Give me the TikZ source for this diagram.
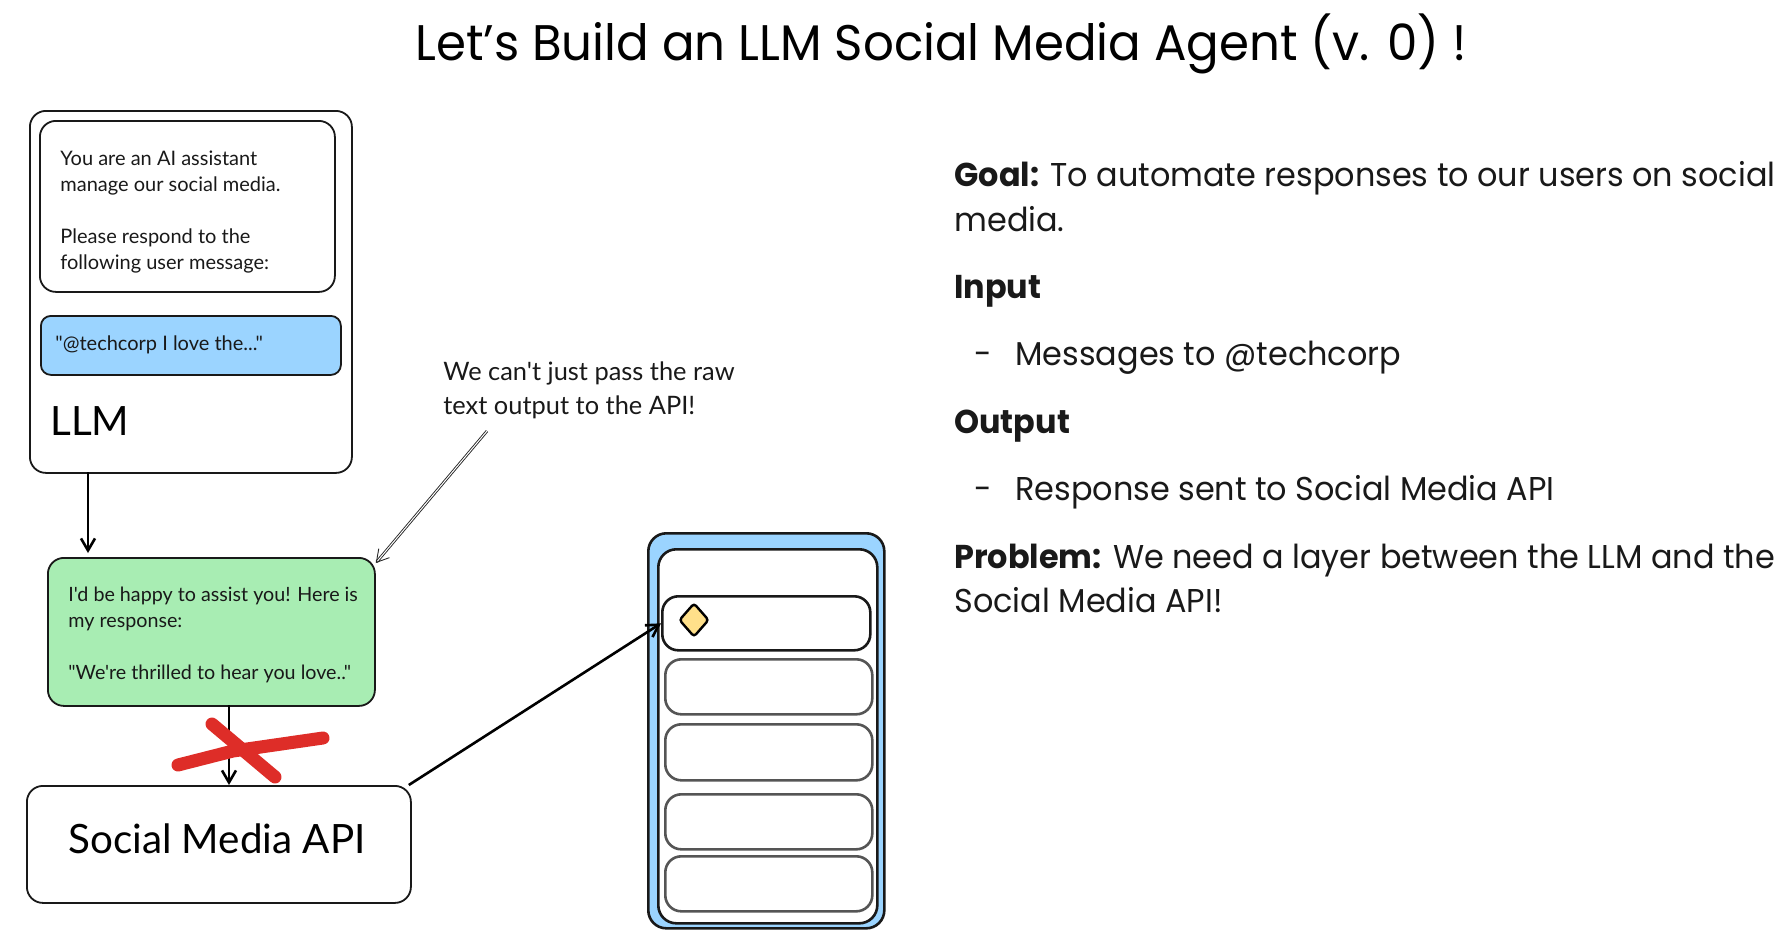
\documentclass[tikz,border=0pt]{standalone}
\usepackage{fontspec}
\setmainfont{Poppins}[FakeStretch=0.966]
\newfontfamily\sketchfont{Lato}
\usetikzlibrary{arrows.meta, positioning, shapes.geometric}
\definecolor{SketchBlue}{RGB}{155, 212, 255}
\definecolor{SketchGreen}{RGB}{168, 237, 179}
\definecolor{SketchYellow}{RGB}{255, 224, 138}
\definecolor{SketchRed}{RGB}{222, 45, 40}
\definecolor{SketchGrey}{RGB}{85, 85, 85}
\tikzset{
    box/.style={draw=black!90, rounded corners=8pt, line width=0.9pt, inner sep=0pt, anchor=north west},
    smalltext/.style={font=\sketchfont\fontsize{10}{12.9}\selectfont, align=left, anchor=north west, inner sep=0pt, text=black!90},
    bigtext/.style={font=\sketchfont\fontsize{20.2}{24}\selectfont, inner sep=0pt, text=black},
    goaltext/.style={font=\fontsize{16.5}{22.4}\selectfont, anchor=base west, inner sep=0pt, text=black!90},
    arrow/.style={-{Straight Barb[length=6pt, width=7pt]}, line width=1.3pt},
    cross/.style={SketchRed, line width=6.5pt, line cap=round, line join=round},
}
\begin{document}
\begin{tikzpicture}[x=0.5pt, y=-0.5pt]
    \useasboundingbox (0,0) rectangle (1787,932);
    % title
    \node[font=\fontsize{25}{30}\selectfont, inner sep=0pt, anchor=base] (title) at (941,60) {Let’s Build an LLM Social Media Agent (v. 0) !};
    % llm box
    \node[box, minimum width=161pt, minimum height=181pt] (llm) at (29,110) {};
    \node[box, minimum width=147.5pt, minimum height=85.5pt] (prompt) at (39,120) {};
    \node[box, fill=SketchBlue, rounded corners=5pt, minimum width=150pt, minimum height=29.5pt] (msg) at (40,315) {};
    \node[smalltext] (prompttext) at (60,151) {You are an AI assistant\\manage our social media.\\[12.9pt]Please respond to the\\following user message:};
    \node[smalltext] (msgtext) at (55,335) {"@techcorp I love the..."};
    \node[bigtext, anchor=base west] (llmtext) at (50,435) {LLM};
    % response and api
    \node[box, fill=SketchGreen, minimum width=163.5pt, minimum height=74pt] (reply) at (47,557) {};
    \node[smalltext, font=\sketchfont\fontsize{9.85}{12.9}\selectfont] (replytext) at (68,587) {I'd be happy to assist you! Here is\\my response:\\[12.9pt]"We're thrilled to hear you love.."};
    \node[box, minimum width=192pt, minimum height=58.5pt] (api) at (26,785) {};
    \node[bigtext, anchor=base] (apitext) at (217,853) {Social Media API};
    % connectors
    \coordinate (llmout) at (88,472);
    \coordinate (replyin) at (88,553);
    \coordinate (replyout) at (229,705);
    \coordinate (apiin) at (229,785);
    \draw[arrow] (llmout) -- (replyin);
    \draw[arrow] (replyout) -- (apiin);
    % the cross
    \draw[cross] (178,765) -- (233,751) -- (323,738);
    \draw[cross] (212,724) -- (275,777);
    % callout
    \node[smalltext, font=\sketchfont\fontsize{12.7}{17}\selectfont] (callout) at (443,361) {We can't just pass the raw\\text output to the API!};
    \coordinate (calloutend) at (487,431);
    \draw[arrow, draw=black!85, line width=0.45pt, double=white, double distance=0.5pt] (calloutend) -- ([yshift=-3pt]reply.north east);
    % phone
    \node[box, fill=SketchBlue, line width=1.3pt, rounded corners=9pt, minimum width=118pt, minimum height=197.5pt] (phone) at (647,532) {};
    \node[box, fill=white, line width=1.3pt, rounded corners=9pt, minimum width=109.5pt, minimum height=187pt] (screen) at (657,548) {};
    \node[box, line width=1.3pt, minimum width=104pt, minimum height=27pt] (rowa) at (661,595) {};
    \foreach \name/\ypos/\hgt in {rowb/658/27.5pt, rowc/723/28pt, rowd/793/27.5pt, rowe/855/27.5pt} {
        \node[box, draw=SketchGrey, line width=1.3pt, minimum width=103.5pt, minimum height=\hgt] (\name) at (664,\ypos) {};
    }
    \node[diamond, draw=black, fill=SketchYellow, line width=1.2pt, rounded corners=1.5pt, inner sep=0pt, minimum width=15pt, minimum height=17pt] (badge) at (694,620) {};
    \draw[arrow] ([xshift=-1.5pt]api.north east) -- (rowa.west);
    % right text
    \node[goaltext] (goal) at (954,186) {\textbf{Goal:} To automate responses to our users on social};
    \node[goaltext] (goalb) at (954,231) {media.};
    \node[goaltext] (input) at (954,298) {\textbf{Input}};
    \node[goaltext] (dasha) at (974,365) {-};
    \node[goaltext] (inputa) at (1015,365) {Messages to @techcorp};
    \node[goaltext] (output) at (954,433) {\textbf{Output}};
    \node[goaltext] (dashb) at (974,500) {-};
    \node[goaltext] (outputa) at (1015,500) {Response sent to Social Media API};
    \node[goaltext] (problem) at (954,568) {\textbf{Problem:} We need a layer between the LLM and the};
    \node[goaltext] (problemb) at (954,612) {Social Media API!};
\end{tikzpicture}
\end{document}
